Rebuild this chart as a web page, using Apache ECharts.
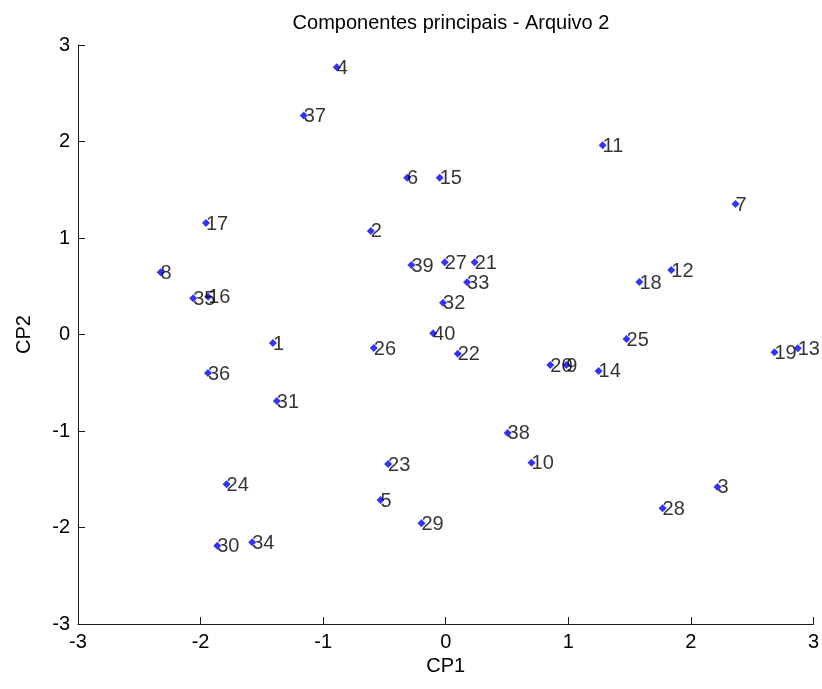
<!DOCTYPE html>
<html>
<head>
<meta charset="utf-8">
<script src="https://cdn.jsdelivr.net/npm/echarts@6/dist/echarts.min.js"></script>
<style>html,body{margin:0;padding:0;background:#fff}#c{width:822px;height:689px}</style>
</head>
<body>
<div id="c"></div>
<script>
var labels = ['1','2','3','4','5','6','7','8','9','10','11','12','13','14','15','16','17','18','19','20','21','22','23','24','25','26','27','28','29','30','31','32','33','34','35','36','37','38','39','40'];
var cp1 = [-1.41,-0.611,2.217,-0.889,-0.532,-0.315,2.364,-2.326,0.984,0.70,1.28,1.84,2.872,1.247,-0.049,-1.938,-1.956,1.58,2.682,0.853,0.236,0.098,-0.47,-1.788,1.475,-0.587,-0.008,1.769,-0.198,-1.864,-1.378,-0.022,0.174,-1.579,-2.06,-1.94,-1.158,0.505,-0.28,-0.103];
var cp2 = [-0.088,1.073,-1.58,2.77,-1.715,1.625,1.352,0.645,-0.316,-1.33,1.96,0.668,-0.143,-0.378,1.625,0.392,1.155,0.544,-0.185,-0.316,0.748,-0.2,-1.342,-1.552,-0.047,-0.14,0.748,-1.80,-1.957,-2.19,-0.689,0.33,0.541,-2.153,0.375,-0.4,2.27,-1.02,0.72,0.012];

var pts = labels.map(function(l, i){ return {name: l, value: [cp1[i], cp2[i]]}; });
var font = 'Liberation Sans, Arial, sans-serif';
var chart = echarts.init(document.getElementById('c'), null, {renderer: 'canvas'});
chart.setOption({
  animation: false,
  backgroundColor: '#fff',
  title: {
    text: 'Componentes principais - Arquivo 2',
    left: 446, top: 8, textAlign: 'center',
    textStyle: {fontFamily: font, fontSize: 20, fontWeight: 'normal', color: '#000'}
  },
  grid: {left: 78, right: 8, top: 45, bottom: 65, containLabel: false},
  xAxis: {
    type: 'value', min: -3, max: 3, interval: 1,
    name: 'CP1', nameLocation: 'middle', nameGap: 32,
    nameTextStyle: {fontFamily: font, fontSize: 20, color: '#000'},
    axisLine: {show: true, onZero: false, lineStyle: {color: '#1a1a1a', width: 1}},
    axisTick: {show: true, inside: true, length: 7, lineStyle: {color: '#1a1a1a'}},
    axisLabel: {fontFamily: font, fontSize: 20, color: '#000', margin: 8},
    splitLine: {show: false}
  },
  yAxis: {
    type: 'value', min: -3, max: 3, interval: 1,
    name: 'CP2', nameLocation: 'middle', nameGap: 44, nameRotate: 90,
    nameTextStyle: {fontFamily: font, fontSize: 20, color: '#000'},
    axisLine: {show: true, onZero: false, lineStyle: {color: '#1a1a1a', width: 1}},
    axisTick: {show: true, inside: true, length: 7, lineStyle: {color: '#1a1a1a'}},
    axisLabel: {fontFamily: font, fontSize: 20, color: '#000', margin: 8},
    splitLine: {show: false}
  },
  series: [{
    type: 'scatter',
    symbol: 'diamond',
    symbolSize: 8,
    itemStyle: {color: '#0000ff'},
    data: pts,
    label: {
      show: true,
      formatter: '{b}',
      position: [4, 4],
      align: 'left',
      verticalAlign: 'middle',
      offset: [0, 1],
      fontFamily: font, fontSize: 20, color: '#000'
    },
    emphasis: {disabled: true}
  }]
});
</script>
</body>
</html>
